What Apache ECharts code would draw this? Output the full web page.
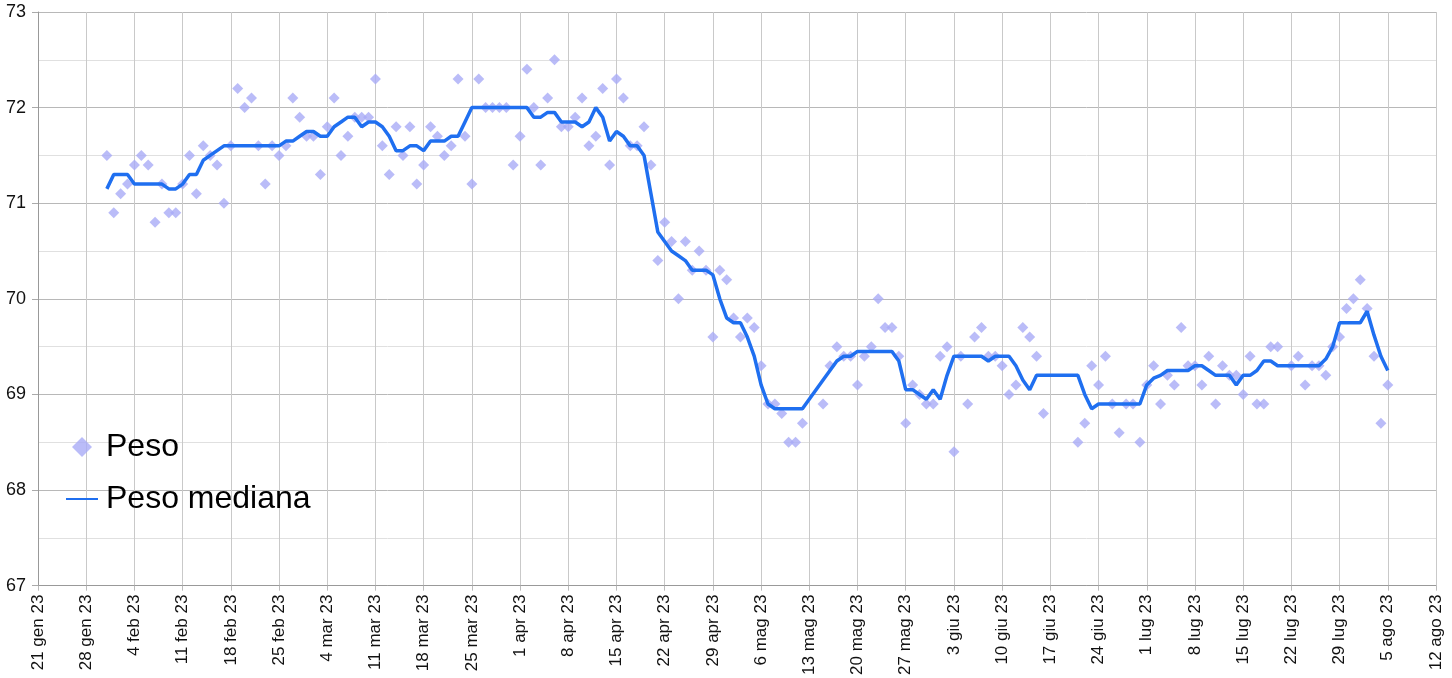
<!DOCTYPE html>
<html>
<head>
<meta charset="utf-8">
<script src="https://cdn.jsdelivr.net/npm/echarts@6/dist/echarts.min.js"></script>
<style>
  html, body { margin: 0; padding: 0; background: #fff; }
  #chart { width: 1452px; height: 678px; }
</style>
</head>
<body>
<div id="chart"></div>
<script>
// giorni contati dal 21 gen 23 (giorno 0); primo dato il 31 gen
const firstDay = 10;

// etichette settimanali dell'asse x
const tickLabels = ['21 gen 23', '28 gen 23', '4 feb 23', '11 feb 23', '18 feb 23', '25 feb 23',
    '4 mar 23', '11 mar 23', '18 mar 23', '25 mar 23', '1 apr 23', '8 apr 23', '15 apr 23',
    '22 apr 23', '29 apr 23', '6 mag 23', '13 mag 23', '20 mag 23', '27 mag 23', '3 giu 23',
    '10 giu 23', '17 giu 23', '24 giu 23', '1 lug 23', '8 lug 23', '15 lug 23', '22 lug 23',
    '29 lug 23', '5 ago 23', '12 ago 23'];

// peso giornaliero (null = giorno senza misura)
const peso = [
    71.5, 70.9, 71.1, 71.2, 71.4, 71.5, 71.4, 70.8, 71.2, 70.9,   // 31 gen - 9 feb
    70.9, 71.2, 71.5, 71.1, 71.6, 71.5, 71.4, 71.0, 71.6, 72.2,   // 10 feb - 19 feb
    72.0, 72.1, 71.6, 71.2, 71.6, 71.5, 71.6, 72.1, 71.9, 71.7,   // 20 feb - 1 mar
    71.7, 71.3, 71.8, 72.1, 71.5, 71.7, 71.9, 71.9, 71.9, 72.3,   // 2 mar - 11 mar
    71.6, 71.3, 71.8, 71.5, 71.8, 71.2, 71.4, 71.8, 71.7, 71.5,   // 12 mar - 21 mar
    71.6, 72.3, 71.7, 71.2, 72.3, 72.0, 72.0, 72.0, 72.0, 71.4,   // 22 mar - 31 mar
    71.7, 72.4, 72.0, 71.4, 72.1, 72.5, 71.8, 71.8, 71.9, 72.1,   // 1 apr - 10 apr
    71.6, 71.7, 72.2, 71.4, 72.3, 72.1, 71.6, 71.6, 71.8, 71.4,   // 11 apr - 20 apr
    70.4, 70.8, 70.6, 70.0, 70.6, 70.3, 70.5, 70.3, 69.6, 70.3,   // 21 apr - 30 apr
    70.2, 69.8, 69.6, 69.8, 69.7, 69.3, 68.9, 68.9, 68.8, 68.5,   // 1 mag - 10 mag
    68.5, 68.7, null, null, 68.9, 69.3, 69.5, 69.4, 69.4, 69.1,   // 11 mag - 20 mag
    69.4, 69.5, 70.0, 69.7, 69.7, 69.4, 68.7, 69.1, 69.0, 68.9,   // 21 mag - 30 mag
    68.9, 69.4, 69.5, 68.4, 69.4, 68.9, 69.6, 69.7, 69.4, 69.4,   // 31 mag - 9 giu
    69.3, 69.0, 69.1, 69.7, 69.6, 69.4, 68.8, null, null, null,   // 10 giu - 19 giu
    null, 68.5, 68.7, 69.3, 69.1, 69.4, 68.9, 68.6, 68.9, 68.9,   // 20 giu - 29 giu
    68.5, 69.1, 69.3, 68.9, 69.2, 69.1, 69.7, 69.3, 69.3, 69.1,   // 30 giu - 9 lug
    69.4, 68.9, 69.3, 69.2, 69.2, 69.0, 69.4, 68.9, 68.9, 69.5,   // 10 lug - 19 lug
    69.5, null, 69.3, 69.4, 69.1, 69.3, 69.3, 69.2, 69.5, 69.6,   // 20 lug - 29 lug
    69.9, 70.0, 70.2, 69.9, 69.4, 68.7, 69.1                      // 30 lug - 5 ago
];

// mediana mobile del peso
const pesoMediana = [
    71.15, 71.3, 71.3, 71.3, 71.2, 71.2, 71.2, 71.2, 71.2, 71.15,
    71.15, 71.2, 71.3, 71.3, 71.45, 71.5, 71.55, 71.6, 71.6, 71.6,
    71.6, 71.6, 71.6, 71.6, 71.6, 71.6, 71.65, 71.65, 71.7, 71.75,
    71.75, 71.7, 71.7, 71.8, 71.85, 71.9, 71.9, 71.8, 71.85, 71.85,
    71.8, 71.7, 71.55, 71.55, 71.6, 71.6, 71.55, 71.65, 71.65, 71.65,
    71.7, 71.7, 71.85, 72.0, 72.0, 72.0, 72.0, 72.0, 72.0, 72.0,
    72.0, 72.0, 71.9, 71.9, 71.95, 71.95, 71.85, 71.85, 71.85, 71.8,
    71.85, 72.0, 71.9, 71.65, 71.75, 71.7, 71.6, 71.6, 71.5, 71.1,
    70.7, 70.6, 70.5, 70.45, 70.4, 70.3, 70.3, 70.3, 70.25, 70.0,
    69.8, 69.75, 69.75, 69.6, 69.4, 69.1, 68.9, 68.85, 68.85, 68.85,
    68.85, 68.85, null, null, 69.15, 69.25, 69.35, 69.4, 69.4, 69.45,
    69.45, 69.45, 69.45, 69.45, 69.45, 69.35, 69.05, 69.05, 69.0, 68.95,
    69.05, 68.95, 69.2, 69.4, 69.4, 69.4, 69.4, 69.4, 69.35, 69.4,
    69.4, 69.4, 69.3, 69.15, 69.05, 69.2, 69.2, null, null, null,
    null, 69.2, 69.0, 68.85, 68.9, 68.9, 68.9, 68.9, 68.9, 68.9,
    68.9, 69.1, 69.17, 69.2, 69.25, 69.25, 69.25, 69.25, 69.3, 69.3,
    69.25, 69.2, 69.2, 69.2, 69.1, 69.2, 69.2, 69.25, 69.35, 69.35,
    69.3, null, 69.3, 69.3, 69.3, 69.3, 69.3, 69.37, 69.5, 69.75,
    69.75, 69.75, 69.75, 69.87, 69.62, 69.4, 69.25
];

const toPairs = (arr) => arr.map((v, i) => [firstDay + i, v]);

const chart = echarts.init(document.getElementById('chart'));
const font = "'Liberation Sans', Arial, sans-serif";

chart.setOption({
    animation: false,
    textStyle: { fontFamily: font },
    grid: {
        left: 38,
        right: 16,
        top: 12,
        bottom: 89
    },
    // legenda dentro l'area del grafico, in basso a sinistra
    legend: {
        orient: 'vertical',
        left: 61,
        top: 426,
        itemWidth: 32,
        itemHeight: 20,
        itemGap: 20,
        textStyle: { fontSize: 32, lineHeight: 32, color: '#000', fontFamily: font, padding: [0, 0, 0, 3] },
        data: [
            { name: 'Peso', icon: 'path://M10,0L20,10L10,20L0,10Z' },
            { name: 'Peso mediana', icon: 'path://M0,0H32V2H0Z' }
        ]
    },
    //asse x: giorni, una linea per settimana
    xAxis: {
        type: 'value',
        min: 0,
        max: 203,
        interval: 7,
        axisLine: { show: true, lineStyle: { color: '#999', width: 1 } },
        axisTick: { show: true, length: 5, lineStyle: { color: '#bbb' } },
        axisLabel: {
            rotate: 90,
            margin: 9,
            fontSize: 17,
            color: '#111',
            formatter: (v) => tickLabels[Math.round(v / 7)]
        },
        splitLine: { show: true, lineStyle: { color: '#c9c9c9', width: 1 } }
    },
    yAxis: {
        type: 'value',
        min: 67,
        max: 73,
        interval: 1,
        axisLine: { show: true, lineStyle: { color: '#999', width: 1 } },
        axisTick: { show: true, length: 6, lineStyle: { color: '#aaa' } },
        axisLabel: { fontSize: 18, color: '#111', margin: 12 },
        splitLine: { show: true, lineStyle: { color: '#b8b8b8', width: 1 } },
        minorTick: { show: false, splitNumber: 2 },
        minorSplitLine: { show: true, lineStyle: { color: '#e0e0e0', width: 1 } }
    },
    series: [
        {
            name: 'Peso',
            type: 'scatter',
            symbol: 'diamond',
            symbolSize: 11,
            itemStyle: { color: '#a9abf6' },
            data: toPairs(peso).filter(p => p[1] !== null)
        },
        {
            name: 'Peso mediana',
            type: 'line',
            symbol: 'none',
            connectNulls: true,
            lineStyle: { color: '#1f6ff0', width: 3.5 },
            itemStyle: { color: '#1f6ff0' },
            data: toPairs(pesoMediana)
        }
    ]
});
</script>
</body>
</html>
